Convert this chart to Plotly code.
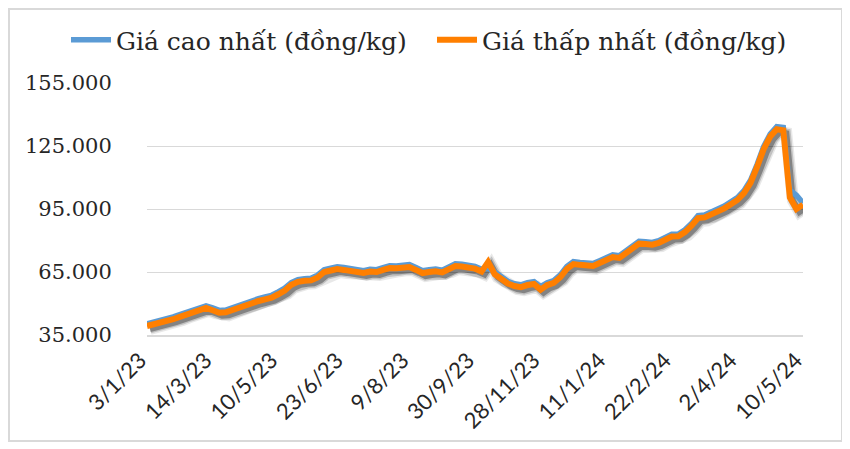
import plotly.graph_objects as go

# ---- data (đồng/kg) ----
tick_labels = ["3/1/23", "14/3/23", "10/5/23", "23/6/23", "9/8/23", "30/9/23",
               "28/11/23", "11/1/24", "22/2/24", "2/4/24", "10/5/24"]
points_per_label = 10

price_low = [39300, 40000, 40500, 41500, 42500, 43600, 44800, 46000, 47200, 47900,
             46800, 45600, 45800, 47000, 48200, 49300, 50400, 51200, 52000, 52800,
             54400, 56200, 58900, 60300, 60800, 61000, 62400, 65000, 65700, 66400,
             66000, 65500, 65000, 64500, 65200, 65000, 66000, 66900, 66800, 67200,
             67400, 66000, 64500, 65000, 65300, 64800, 66500, 67800, 67600, 67000,
             66600, 65200, 69800, 64000, 61500, 59500, 58300, 57800, 58800, 59300,
             56600, 58800, 59800, 62500, 66500, 68800, 68400, 68200, 67900, 69300,
             70800, 72100, 71700, 73800, 76000, 78500, 78300, 78000, 78800, 80500,
             81900, 82000, 84000, 87000, 90700, 91000, 92200, 93700, 95300, 97300,
             99300, 102600, 107500, 115000, 123500, 129500, 133000, 132500, 100500, 95000,
             97000]

price_high = [40300, 41000, 41600, 42500, 43600, 44700, 45900, 47100, 48200, 48900,
              47900, 46700, 46900, 48100, 49300, 50400, 51500, 52300, 53100, 53900,
              55500, 57300, 60000, 61300, 61800, 62000, 63500, 66100, 66800, 67500,
              67100, 66600, 66100, 65600, 66300, 66100, 67100, 68000, 67900, 68300,
              68500, 67100, 65600, 66100, 66400, 65900, 67600, 68900, 68700, 68100,
              67700, 66300, 66800, 65100, 62600, 60600, 59400, 58900, 59900, 60400,
              58000, 59900, 60900, 63600, 67600, 69900, 69500, 69300, 69000, 70400,
              71900, 73200, 72800, 74900, 77100, 79600, 79400, 79100, 79900, 81600,
              83000, 83100, 85100, 88100, 91800, 92100, 93300, 94800, 96400, 98400,
              100400, 103700, 108700, 116200, 124700, 130700, 134200, 133800, 104000, 101500,
              97800]

y_ticks = [35000, 65000, 95000, 125000, 155000]

name_high = "Giá cao nhất (đồng/kg)"
name_low = "Giá thấp nhất (đồng/kg)"

# ---- figure ----
x_idx = list(range(len(price_low)))
tick_pos = [i * points_per_label for i in range(len(tick_labels))]

# the page places the figure 8px from the top-left corner, so the figure is
# made 8px smaller and every margin is measured from that corner
W, H = 842, 441
ml, mr, mt, mb = 139, 47, 75, 114
plot_w = W - ml - mr
plot_h = H - mt - mb
x_range = [0, len(price_low) - 1]
y_range = [35000, 155000]
# shadow offset (pixels) converted into axis units
sx = 3 * (x_range[1] - x_range[0]) / plot_w
sy = 3 * (y_range[1] - y_range[0]) / plot_h

fig = go.Figure()

# soft drop shadow: drawn on the hidden base axes, whose ranges are shifted
for w_, op in [(12, 0.09), (9, 0.17), (6, 0.32)]:
    fig.add_trace(go.Scatter(x=x_idx, y=price_low, mode="lines", xaxis="x", yaxis="y",
                             line=dict(color=f"rgba(0,0,0,{op})", width=w_),
                             showlegend=False, hoverinfo="skip"))

# real series on the visible overlay axes (drawn above the shadow)
fig.add_trace(go.Scatter(x=x_idx, y=price_high, mode="lines", name=name_high,
                         xaxis="x2", yaxis="y2", legend="legend",
                         line=dict(color="#5B9BD5", width=5.5)))
fig.add_trace(go.Scatter(x=x_idx, y=price_low, mode="lines", name=name_low,
                         xaxis="x2", yaxis="y2", legend="legend2",
                         line=dict(color="#FF7F00", width=6)))

legend_font = dict(family="DejaVu Serif", size=25, color="#262626")
fig.update_layout(
    width=W, height=H,
    margin=dict(l=ml, r=mr, t=mt, b=mb, autoexpand=False),
    paper_bgcolor="white", plot_bgcolor="white",
    separators=",.",
    showlegend=True,
    legend=dict(orientation="h", xref="container", yref="container",
                x=58 / W, xanchor="left", y=1 - 32 / H, yanchor="middle",
                itemwidth=40, font=legend_font, bgcolor="rgba(0,0,0,0)"),
    legend2=dict(orientation="h", xref="container", yref="container",
                 x=424 / W, xanchor="left", y=1 - 32 / H, yanchor="middle",
                 itemwidth=40, font=legend_font, bgcolor="rgba(0,0,0,0)"),
    xaxis=dict(range=[x_range[0] - sx, x_range[1] - sx], visible=False),
    yaxis=dict(range=[y_range[0] + sy, y_range[1] + sy], visible=False),
    xaxis2=dict(overlaying="x", range=x_range, tickmode="array", tickvals=tick_pos,
                ticktext=tick_labels, side="bottom",
                tickangle=-45, showgrid=False, zeroline=False,
                showline=True, linecolor="#D9D9D9", linewidth=1.5,
                ticks="", ticklabelshift=-7, ticklabelstandoff=2,
                tickfont=dict(family="Lato", size=22, color="#262626")),
    yaxis2=dict(overlaying="y", range=y_range, tickmode="array", tickvals=y_ticks,
                tickformat=",d", side="left",
                showgrid=True, gridcolor="#D9D9D9", gridwidth=1.2, zeroline=False,
                showline=False, ticks="outside", ticklen=30, tickcolor="rgba(0,0,0,0)",
                tickfont=dict(family="DejaVu Serif", size=21, color="#262626")),
    shapes=[dict(type="rect", xref="paper", yref="paper",
                 x0=-(ml - 1) / plot_w, x1=1 + (mr - 8) / plot_w,
                 y0=-(mb - 8) / plot_h, y1=1 + (mt - 1) / plot_h,
                 line=dict(color="#D9D9D9", width=2), fillcolor="rgba(0,0,0,0)",
                 layer="below")],
)

fig.write_html("out.html")
